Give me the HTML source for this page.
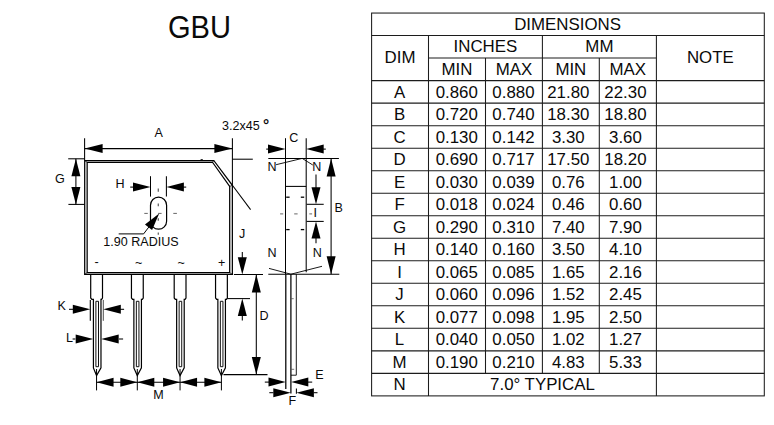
<!DOCTYPE html>
<html lang="en">
<head>
<meta charset="utf-8">
<title>GBU package dimensions</title>
<style>
html,body{margin:0;padding:0;background:#fff;}
body{width:774px;height:425px;overflow:hidden;}
svg{display:block;}
svg text{font-family:"Liberation Sans",Arial,Helvetica,sans-serif;fill:#0a0a0a;}
</style>
</head>
<body>
<svg width="774" height="425" viewBox="0 0 774 425">
<rect x="0" y="0" width="774" height="425" fill="#ffffff"/>
<text transform="translate(199.5,38.0) scale(0.903,1)" x="0" y="0" font-size="32.2" text-anchor="middle">GBU</text>
<path d="M84.7 274.45 L84.7 160.5 L213.8 160.5 L232.35 185.3 L232.35 274.45 Z" fill="none" stroke="#000" stroke-width="1.25" stroke-linejoin="miter"/>
<path d="M87.15 272.6 L87.15 162.25 L212.5 162.25 L229.7 186.4 L229.7 272.6 Z" fill="none" stroke="#000" stroke-width="1.25" stroke-linejoin="miter"/>
<line x1="84.7" y1="160.5" x2="87.15" y2="162.25" stroke="#000" stroke-width="0.7" />
<line x1="84.7" y1="274.45" x2="87.15" y2="272.6" stroke="#000" stroke-width="0.7" />
<line x1="232.35" y1="274.45" x2="229.7" y2="272.6" stroke="#000" stroke-width="0.7" />
<line x1="213.8" y1="160.5" x2="212.5" y2="162.25" stroke="#000" stroke-width="0.7" />
<line x1="232.35" y1="185.3" x2="229.7" y2="186.4" stroke="#000" stroke-width="0.7" />
<line x1="232.4" y1="185.3" x2="250.6" y2="209.6" stroke="#000" stroke-width="1.05" />
<line x1="200.6" y1="159.6" x2="202.8" y2="159.6" stroke="#000" stroke-width="0.9" />
<line x1="84.6" y1="138.2" x2="84.6" y2="160.4" stroke="#000" stroke-width="1.05" />
<line x1="232.4" y1="138.2" x2="232.4" y2="185.3" stroke="#000" stroke-width="1.05" />
<line x1="84.6" y1="148.6" x2="232.4" y2="148.6" stroke="#000" stroke-width="1.05" />
<path d="M84.60 148.60 L102.60 144.10 L102.60 153.10 Z" fill="#000"/>
<path d="M232.40 148.60 L214.40 153.10 L214.40 144.10 Z" fill="#000"/>
<text x="158.6" y="136.8" font-size="12.55" text-anchor="middle" >A</text>
<line x1="232.4" y1="159.2" x2="252.8" y2="159.2" stroke="#000" stroke-width="1.05" />
<text x="222.0" y="129.8" font-size="12.55" text-anchor="start" >3.2x45</text>
<text x="262.9" y="129.6" font-size="15.5" text-anchor="start" font-weight="bold">°</text>
<line x1="68.2" y1="158.8" x2="84.6" y2="158.8" stroke="#000" stroke-width="1.05" />
<line x1="68.4" y1="204.4" x2="84.4" y2="204.4" stroke="#000" stroke-width="1.05" />
<line x1="75.9" y1="158.8" x2="75.9" y2="204.4" stroke="#000" stroke-width="1.05" />
<path d="M75.90 158.80 L80.40 176.30 L71.40 176.30 Z" fill="#000"/>
<path d="M75.90 204.40 L71.40 186.90 L80.40 186.90 Z" fill="#000"/>
<text x="55.0" y="183.2" font-size="12.55" text-anchor="start" >G</text>
<line x1="150.5" y1="176.2" x2="150.5" y2="196.6" stroke="#000" stroke-width="1.05" />
<line x1="166.4" y1="176.2" x2="166.4" y2="196.6" stroke="#000" stroke-width="1.05" />
<line x1="130.2" y1="187.1" x2="134" y2="187.1" stroke="#000" stroke-width="1.05" />
<line x1="183" y1="187.1" x2="186.2" y2="187.1" stroke="#000" stroke-width="1.05" />
<path d="M150.50 187.10 L133.00 191.60 L133.00 182.60 Z" fill="#000"/>
<path d="M166.40 187.10 L183.90 182.60 L183.90 191.60 Z" fill="#000"/>
<text x="115.6" y="187.9" font-size="12.55" text-anchor="start" >H</text>
<rect x="150.5" y="197.1" width="16.1" height="32.1" rx="8.05" ry="8.05" fill="none" stroke="#000" stroke-width="1.2"/>
<line x1="158.3" y1="188.6" x2="158.3" y2="191.7" stroke="#666" stroke-width="1.3" />
<line x1="158.3" y1="203.4" x2="158.3" y2="206.2" stroke="#666" stroke-width="1.3" />
<line x1="158.3" y1="218.2" x2="158.3" y2="220.7" stroke="#666" stroke-width="1.3" />
<line x1="158.3" y1="232.4" x2="158.3" y2="234.8" stroke="#666" stroke-width="1.3" />
<line x1="144.3" y1="213.4" x2="147.8" y2="213.4" stroke="#555" stroke-width="0.9" />
<line x1="158.1" y1="213.4" x2="161.6" y2="213.4" stroke="#555" stroke-width="0.9" />
<line x1="173.3" y1="213.4" x2="176.9" y2="213.4" stroke="#555" stroke-width="0.9" />
<path d="M118.7 233.9 L143.6 233.9 L150 225.5" fill="none" stroke="#000" stroke-width="1.0" stroke-linejoin="miter"/>
<path d="M159.20 213.40 L152.08 230.01 L144.95 224.51 Z" fill="#000"/>
<text x="103.3" y="245.9" font-size="12.55" text-anchor="start" >1.90 RADIUS</text>
<text x="94.5" y="265.6" font-size="12.55" text-anchor="start" >-</text>
<text x="135.0" y="267.2" font-size="12.55" text-anchor="start" >~</text>
<text x="177.6" y="267.2" font-size="12.55" text-anchor="start" >~</text>
<text x="218.1" y="267.3" font-size="12.55" text-anchor="start" >+</text>
<path d="M90.7 274.6 L90.7 298.0 L91.85 299.4 L93.42 299.4 L93.42 367.9 L96.55 375.6 L100.98 367.9 L100.98 299.4 L101.55 299.4 L102.5 298.0 L102.5 274.6" fill="none" stroke="#000" stroke-width="1.2" stroke-linejoin="miter"/>
<path d="M95.9 301.3 L95.9 366.7 L98.5 366.7 L98.5 301.3 Z" fill="none" stroke="#111" stroke-width="1.0" stroke-linejoin="miter"/>
<line x1="96.55" y1="369.0" x2="96.55" y2="390.4" stroke="#000" stroke-width="1.0" />
<path d="M131.45000000000002 274.6 L131.45000000000002 298.0 L132.60000000000002 299.4 L133.87 299.4 L133.87 367.9 L137.3 375.6 L141.43 367.9 L141.43 299.4 L142.3 299.4 L143.25 298.0 L143.25 274.6" fill="none" stroke="#000" stroke-width="1.2" stroke-linejoin="miter"/>
<path d="M136.35 301.3 L136.35 366.7 L138.95000000000002 366.7 L138.95000000000002 301.3 Z" fill="none" stroke="#111" stroke-width="1.0" stroke-linejoin="miter"/>
<line x1="137.3" y1="369.0" x2="137.3" y2="390.4" stroke="#000" stroke-width="1.0" />
<path d="M174.20000000000002 274.6 L174.20000000000002 298.0 L175.35000000000002 299.4 L176.65 299.4 L176.65 367.9 L180.05 375.6 L184.21 367.9 L184.21 299.4 L185.05 299.4 L186.0 298.0 L186.0 274.6" fill="none" stroke="#000" stroke-width="1.2" stroke-linejoin="miter"/>
<path d="M179.13 301.3 L179.13 366.7 L181.73000000000002 366.7 L181.73000000000002 301.3 Z" fill="none" stroke="#111" stroke-width="1.0" stroke-linejoin="miter"/>
<line x1="180.05" y1="369.0" x2="180.05" y2="390.4" stroke="#000" stroke-width="1.0" />
<path d="M215.55 274.6 L215.55 298.0 L216.70000000000002 299.4 L217.87 299.4 L217.87 367.9 L221.4 375.6 L225.43 367.9 L225.43 299.4 L226.4 299.4 L227.35 298.0 L227.35 274.6" fill="none" stroke="#000" stroke-width="1.2" stroke-linejoin="miter"/>
<path d="M220.35 301.3 L220.35 366.7 L222.95000000000002 366.7 L222.95000000000002 301.3 Z" fill="none" stroke="#111" stroke-width="1.0" stroke-linejoin="miter"/>
<line x1="221.4" y1="369.0" x2="221.4" y2="390.4" stroke="#000" stroke-width="1.0" />
<line x1="90.3" y1="299.9" x2="90.3" y2="320.8" stroke="#000" stroke-width="1.1" />
<line x1="103.3" y1="299.9" x2="103.3" y2="320.8" stroke="#444" stroke-width="0.95" />
<line x1="69" y1="309.3" x2="73.2" y2="309.3" stroke="#000" stroke-width="1.05" />
<line x1="119.8" y1="309.3" x2="124.1" y2="309.3" stroke="#000" stroke-width="1.05" />
<path d="M90.30 309.30 L72.80 313.80 L72.80 304.80 Z" fill="#000"/>
<path d="M103.30 309.30 L120.80 304.80 L120.80 313.80 Z" fill="#000"/>
<text x="57.6" y="309.8" font-size="12.55" text-anchor="start" >K</text>
<line x1="72.6" y1="339" x2="75.4" y2="339" stroke="#000" stroke-width="1.05" />
<line x1="119" y1="339" x2="123.1" y2="339" stroke="#000" stroke-width="1.05" />
<path d="M93.20 339.00 L75.70 343.50 L75.70 334.50 Z" fill="#000"/>
<path d="M101.20 339.00 L118.70 334.50 L118.70 343.50 Z" fill="#000"/>
<text x="66.0" y="341.9" font-size="12.55" text-anchor="start" >L</text>
<line x1="96.5" y1="382.3" x2="221.4" y2="382.3" stroke="#000" stroke-width="1.05" />
<path d="M96.55 382.30 L113.55 377.80 L113.55 386.80 Z" fill="#000"/>
<path d="M137.30 382.30 L120.30 386.80 L120.30 377.80 Z" fill="#000"/>
<path d="M137.30 382.30 L154.30 377.80 L154.30 386.80 Z" fill="#000"/>
<path d="M180.05 382.30 L163.05 386.80 L163.05 377.80 Z" fill="#000"/>
<path d="M180.05 382.30 L197.05 377.80 L197.05 386.80 Z" fill="#000"/>
<path d="M221.40 382.30 L204.40 386.80 L204.40 377.80 Z" fill="#000"/>
<text x="158.5" y="398.9" font-size="12.55" text-anchor="middle" >M</text>
<line x1="233.9" y1="274.5" x2="263" y2="274.5" stroke="#000" stroke-width="1.05" />
<line x1="227.2" y1="298.6" x2="250" y2="298.6" stroke="#000" stroke-width="1.05" />
<line x1="242.3" y1="252.1" x2="242.3" y2="258" stroke="#000" stroke-width="1.05" />
<path d="M242.30 274.50 L237.80 257.20 L246.80 257.20 Z" fill="#000"/>
<path d="M242.30 298.60 L246.80 315.90 L237.80 315.90 Z" fill="#000"/>
<line x1="242.3" y1="315" x2="242.3" y2="320.5" stroke="#000" stroke-width="1.05" />
<text x="239.0" y="238.0" font-size="12.55" text-anchor="start" >J</text>
<line x1="223.5" y1="374.6" x2="267.5" y2="374.6" stroke="#000" stroke-width="1.05" />
<line x1="256.3" y1="274.5" x2="256.3" y2="374.6" stroke="#000" stroke-width="1.05" />
<path d="M256.30 274.50 L260.80 292.50 L251.80 292.50 Z" fill="#000"/>
<path d="M256.30 374.60 L251.80 357.00 L260.80 357.00 Z" fill="#000"/>
<text x="259.6" y="320.1" font-size="12.55" text-anchor="start" >D</text>
<line x1="285.5" y1="138.2" x2="285.5" y2="274.2" stroke="#000" stroke-width="1.05" />
<line x1="306.2" y1="138.2" x2="306.2" y2="272.2" stroke="#000" stroke-width="1.05" />
<line x1="268.3" y1="158.4" x2="338.9" y2="158.4" stroke="#000" stroke-width="1.05" />
<line x1="268.3" y1="274.2" x2="339.3" y2="274.2" stroke="#000" stroke-width="1.05" />
<line x1="266.2" y1="149.1" x2="269" y2="149.1" stroke="#000" stroke-width="1.05" />
<line x1="323" y1="149.1" x2="325.8" y2="149.1" stroke="#000" stroke-width="1.05" />
<path d="M285.50 149.10 L268.00 153.60 L268.00 144.60 Z" fill="#000"/>
<path d="M306.20 149.10 L323.70 144.60 L323.70 153.60 Z" fill="#000"/>
<text x="293.9" y="141.7" font-size="12.55" text-anchor="middle" >C</text>
<path d="M276.1 164.7 L302.2 158.4 L312.8 165.0" fill="none" stroke="#000" stroke-width="0.9" stroke-linejoin="miter"/>
<path d="M269.0 268.4 L290.9 274.2 L322.0 266.3" fill="none" stroke="#000" stroke-width="0.9" stroke-linejoin="miter"/>
<text x="267.6" y="171.3" font-size="12.55" text-anchor="start" >N</text>
<text x="312.2" y="171.3" font-size="12.55" text-anchor="start" >N</text>
<text x="267.6" y="256.6" font-size="12.55" text-anchor="start" >N</text>
<text x="312.8" y="256.6" font-size="12.55" text-anchor="start" >N</text>
<line x1="285.5" y1="186.4" x2="306.2" y2="186.4" stroke="#000" stroke-width="1.05" />
<line x1="286.2" y1="197.2" x2="289.6" y2="197.2" stroke="#000" stroke-width="1.3" />
<line x1="300.8" y1="197.2" x2="304.2" y2="197.2" stroke="#000" stroke-width="1.3" />
<line x1="286.2" y1="229.6" x2="289.6" y2="229.6" stroke="#000" stroke-width="1.3" />
<line x1="300.8" y1="229.6" x2="304.2" y2="229.6" stroke="#000" stroke-width="1.3" />
<line x1="280.1" y1="213.9" x2="283.2" y2="213.9" stroke="#555" stroke-width="0.9" />
<line x1="294.2" y1="213.9" x2="297.6" y2="213.9" stroke="#555" stroke-width="0.9" />
<line x1="309.3" y1="213.9" x2="312.1" y2="213.9" stroke="#555" stroke-width="0.9" />
<line x1="306.6" y1="204.3" x2="323.7" y2="204.3" stroke="#000" stroke-width="1.05" />
<line x1="306.6" y1="221.4" x2="323.7" y2="221.4" stroke="#000" stroke-width="1.05" />
<line x1="316" y1="174.4" x2="316" y2="188" stroke="#000" stroke-width="1.05" />
<path d="M316.00 204.30 L311.50 187.30 L320.50 187.30 Z" fill="#000"/>
<path d="M316.00 221.40 L320.50 238.40 L311.50 238.40 Z" fill="#000"/>
<line x1="316" y1="238" x2="316" y2="243.2" stroke="#000" stroke-width="1.05" />
<text x="313.4" y="216.6" font-size="12.55" text-anchor="start" >I</text>
<line x1="331.1" y1="158.4" x2="331.1" y2="274.2" stroke="#000" stroke-width="1.05" />
<path d="M331.10 158.40 L335.60 176.40 L326.60 176.40 Z" fill="#000"/>
<path d="M331.10 274.20 L326.60 256.20 L335.60 256.20 Z" fill="#000"/>
<text x="334.4" y="211.6" font-size="12.55" text-anchor="start" >B</text>
<line x1="285.8" y1="274.2" x2="285.8" y2="389.0" stroke="#000" stroke-width="1.25" />
<line x1="290.9" y1="274.2" x2="290.9" y2="393.4" stroke="#000" stroke-width="1.25" />
<path d="M296.3 274.2 L296.3 375.2 L291.0 375.2" fill="none" stroke="#000" stroke-width="0.9" stroke-linejoin="miter"/>
<line x1="291" y1="298.7" x2="293.7" y2="298.7" stroke="#555" stroke-width="0.8" />
<line x1="290.4" y1="369.3" x2="294.2" y2="369.3" stroke="#555" stroke-width="0.8" />
<line x1="264.8" y1="382.1" x2="269" y2="382.1" stroke="#000" stroke-width="1.05" />
<line x1="308" y1="382.1" x2="312.2" y2="382.1" stroke="#000" stroke-width="1.05" />
<path d="M285.70 382.10 L268.50 386.60 L268.50 377.60 Z" fill="#000"/>
<path d="M291.10 382.10 L308.30 377.60 L308.30 386.60 Z" fill="#000"/>
<text x="315.2" y="378.6" font-size="12.55" text-anchor="start" >E</text>
<line x1="269.3" y1="392.7" x2="273.5" y2="392.7" stroke="#000" stroke-width="1.05" />
<line x1="313.5" y1="392.7" x2="317.5" y2="392.7" stroke="#000" stroke-width="1.05" />
<line x1="296.4" y1="388.4" x2="296.4" y2="393.8" stroke="#000" stroke-width="1.05" />
<path d="M290.80 392.70 L273.30 397.20 L273.30 388.20 Z" fill="#000"/>
<path d="M296.40 392.70 L313.90 388.20 L313.90 397.20 Z" fill="#000"/>
<text x="288.4" y="404.5" font-size="12.55" text-anchor="start" >F</text>
<rect x="371.6" y="13.05" width="392.69999999999993" height="382.84" fill="none" stroke="#1c1c1c" stroke-width="1.05"/>
<line x1="371.6" y1="35.57" x2="764.3" y2="35.57" stroke="#1c1c1c" stroke-width="1.05" />
<line x1="428.5" y1="58.09" x2="656.4" y2="58.09" stroke="#1c1c1c" stroke-width="1.05" />
<line x1="371.6" y1="80.61" x2="764.3" y2="80.61" stroke="#1c1c1c" stroke-width="1.05" />
<line x1="371.6" y1="103.13" x2="764.3" y2="103.13" stroke="#1c1c1c" stroke-width="1.05" />
<line x1="371.6" y1="125.65" x2="764.3" y2="125.65" stroke="#1c1c1c" stroke-width="1.05" />
<line x1="371.6" y1="148.17" x2="764.3" y2="148.17" stroke="#1c1c1c" stroke-width="1.05" />
<line x1="371.6" y1="170.69" x2="764.3" y2="170.69" stroke="#1c1c1c" stroke-width="1.05" />
<line x1="371.6" y1="193.21" x2="764.3" y2="193.21" stroke="#1c1c1c" stroke-width="1.05" />
<line x1="371.6" y1="215.73" x2="764.3" y2="215.73" stroke="#1c1c1c" stroke-width="1.05" />
<line x1="371.6" y1="238.25" x2="764.3" y2="238.25" stroke="#1c1c1c" stroke-width="1.05" />
<line x1="371.6" y1="260.77" x2="764.3" y2="260.77" stroke="#1c1c1c" stroke-width="1.05" />
<line x1="371.6" y1="283.29" x2="764.3" y2="283.29" stroke="#1c1c1c" stroke-width="1.05" />
<line x1="371.6" y1="305.81" x2="764.3" y2="305.81" stroke="#1c1c1c" stroke-width="1.05" />
<line x1="371.6" y1="328.33" x2="764.3" y2="328.33" stroke="#1c1c1c" stroke-width="1.05" />
<line x1="371.6" y1="350.85" x2="764.3" y2="350.85" stroke="#1c1c1c" stroke-width="1.05" />
<line x1="371.6" y1="373.37" x2="764.3" y2="373.37" stroke="#1c1c1c" stroke-width="1.05" />
<line x1="428.5" y1="35.57" x2="428.5" y2="395.89" stroke="#1c1c1c" stroke-width="1.05" />
<line x1="656.4" y1="35.57" x2="656.4" y2="395.89" stroke="#1c1c1c" stroke-width="1.05" />
<line x1="542.4" y1="35.57" x2="542.4" y2="373.37" stroke="#1c1c1c" stroke-width="1.05" />
<line x1="485.5" y1="58.09" x2="485.5" y2="373.37" stroke="#1c1c1c" stroke-width="1.05" />
<line x1="599.3" y1="58.09" x2="599.3" y2="373.37" stroke="#1c1c1c" stroke-width="1.05" />
<text x="567.55" y="30.0" font-size="16.85" text-anchor="middle" >DIMENSIONS</text>
<text x="400.05" y="63.0" font-size="16.85" text-anchor="middle" >DIM</text>
<text x="485.45" y="52.0" font-size="16.85" text-anchor="middle" >INCHES</text>
<text x="599.4" y="52.0" font-size="16.85" text-anchor="middle" >MM</text>
<text x="710.35" y="63.0" font-size="16.85" text-anchor="middle" >NOTE</text>
<text x="457.0" y="75.0" font-size="16.85" text-anchor="middle" >MIN</text>
<text x="513.95" y="75.0" font-size="16.85" text-anchor="middle" >MAX</text>
<text x="570.85" y="75.0" font-size="16.85" text-anchor="middle" >MIN</text>
<text x="627.85" y="75.0" font-size="16.85" text-anchor="middle" >MAX</text>
<text x="399.55" y="98" font-size="16.85" text-anchor="middle" >A</text>
<text x="456.75" y="98" font-size="16.85" text-anchor="middle" >0.860</text>
<text x="513.45" y="98" font-size="16.85" text-anchor="middle" >0.880</text>
<text x="568.3" y="98" font-size="16.85" text-anchor="middle" >21.80</text>
<text x="625.45" y="98" font-size="16.85" text-anchor="middle" >22.30</text>
<text x="399.55" y="120" font-size="16.85" text-anchor="middle" >B</text>
<text x="456.75" y="120" font-size="16.85" text-anchor="middle" >0.720</text>
<text x="513.45" y="120" font-size="16.85" text-anchor="middle" >0.740</text>
<text x="568.3" y="120" font-size="16.85" text-anchor="middle" >18.30</text>
<text x="625.45" y="120" font-size="16.85" text-anchor="middle" >18.80</text>
<text x="399.55" y="143" font-size="16.85" text-anchor="middle" >C</text>
<text x="456.75" y="143" font-size="16.85" text-anchor="middle" >0.130</text>
<text x="513.45" y="143" font-size="16.85" text-anchor="middle" >0.142</text>
<text x="568.3" y="143" font-size="16.85" text-anchor="middle" >3.30</text>
<text x="625.45" y="143" font-size="16.85" text-anchor="middle" >3.60</text>
<text x="399.55" y="165" font-size="16.85" text-anchor="middle" >D</text>
<text x="456.75" y="165" font-size="16.85" text-anchor="middle" >0.690</text>
<text x="513.45" y="165" font-size="16.85" text-anchor="middle" >0.717</text>
<text x="568.3" y="165" font-size="16.85" text-anchor="middle" >17.50</text>
<text x="625.45" y="165" font-size="16.85" text-anchor="middle" >18.20</text>
<text x="399.55" y="188" font-size="16.85" text-anchor="middle" >E</text>
<text x="456.75" y="188" font-size="16.85" text-anchor="middle" >0.030</text>
<text x="513.45" y="188" font-size="16.85" text-anchor="middle" >0.039</text>
<text x="568.3" y="188" font-size="16.85" text-anchor="middle" >0.76</text>
<text x="625.45" y="188" font-size="16.85" text-anchor="middle" >1.00</text>
<text x="399.55" y="210" font-size="16.85" text-anchor="middle" >F</text>
<text x="456.75" y="210" font-size="16.85" text-anchor="middle" >0.018</text>
<text x="513.45" y="210" font-size="16.85" text-anchor="middle" >0.024</text>
<text x="568.3" y="210" font-size="16.85" text-anchor="middle" >0.46</text>
<text x="625.45" y="210" font-size="16.85" text-anchor="middle" >0.60</text>
<text x="399.55" y="233" font-size="16.85" text-anchor="middle" >G</text>
<text x="456.75" y="233" font-size="16.85" text-anchor="middle" >0.290</text>
<text x="513.45" y="233" font-size="16.85" text-anchor="middle" >0.310</text>
<text x="568.3" y="233" font-size="16.85" text-anchor="middle" >7.40</text>
<text x="625.45" y="233" font-size="16.85" text-anchor="middle" >7.90</text>
<text x="399.55" y="255" font-size="16.85" text-anchor="middle" >H</text>
<text x="456.75" y="255" font-size="16.85" text-anchor="middle" >0.140</text>
<text x="513.45" y="255" font-size="16.85" text-anchor="middle" >0.160</text>
<text x="568.3" y="255" font-size="16.85" text-anchor="middle" >3.50</text>
<text x="625.45" y="255" font-size="16.85" text-anchor="middle" >4.10</text>
<text x="399.55" y="278" font-size="16.85" text-anchor="middle" >I</text>
<text x="456.75" y="278" font-size="16.85" text-anchor="middle" >0.065</text>
<text x="513.45" y="278" font-size="16.85" text-anchor="middle" >0.085</text>
<text x="568.3" y="278" font-size="16.85" text-anchor="middle" >1.65</text>
<text x="625.45" y="278" font-size="16.85" text-anchor="middle" >2.16</text>
<text x="399.55" y="300" font-size="16.85" text-anchor="middle" >J</text>
<text x="456.75" y="300" font-size="16.85" text-anchor="middle" >0.060</text>
<text x="513.45" y="300" font-size="16.85" text-anchor="middle" >0.096</text>
<text x="568.3" y="300" font-size="16.85" text-anchor="middle" >1.52</text>
<text x="625.45" y="300" font-size="16.85" text-anchor="middle" >2.45</text>
<text x="399.55" y="323" font-size="16.85" text-anchor="middle" >K</text>
<text x="456.75" y="323" font-size="16.85" text-anchor="middle" >0.077</text>
<text x="513.45" y="323" font-size="16.85" text-anchor="middle" >0.098</text>
<text x="568.3" y="323" font-size="16.85" text-anchor="middle" >1.95</text>
<text x="625.45" y="323" font-size="16.85" text-anchor="middle" >2.50</text>
<text x="399.55" y="345" font-size="16.85" text-anchor="middle" >L</text>
<text x="456.75" y="345" font-size="16.85" text-anchor="middle" >0.040</text>
<text x="513.45" y="345" font-size="16.85" text-anchor="middle" >0.050</text>
<text x="568.3" y="345" font-size="16.85" text-anchor="middle" >1.02</text>
<text x="625.45" y="345" font-size="16.85" text-anchor="middle" >1.27</text>
<text x="399.55" y="368" font-size="16.85" text-anchor="middle" >M</text>
<text x="456.75" y="368" font-size="16.85" text-anchor="middle" >0.190</text>
<text x="513.45" y="368" font-size="16.85" text-anchor="middle" >0.210</text>
<text x="568.3" y="368" font-size="16.85" text-anchor="middle" >4.83</text>
<text x="625.45" y="368" font-size="16.85" text-anchor="middle" >5.33</text>
<text x="399.55" y="390" font-size="16.85" text-anchor="middle" >N</text>
<text x="542.45" y="390" font-size="16.85" text-anchor="middle" >7.0° TYPICAL</text>
</svg>
</body>
</html>
